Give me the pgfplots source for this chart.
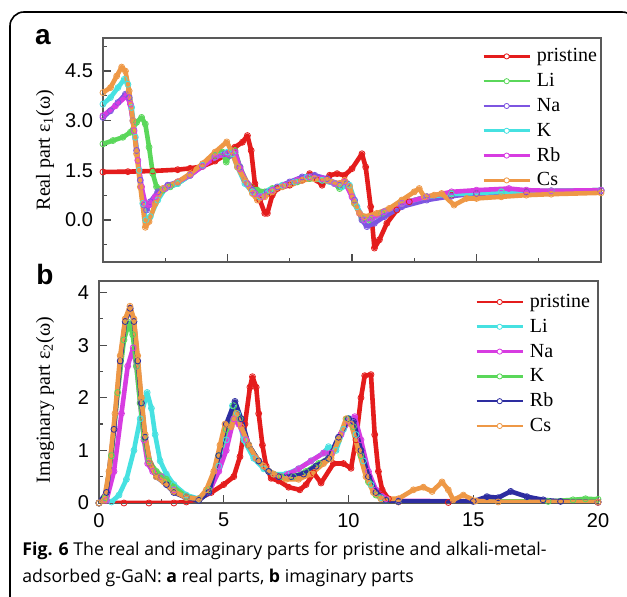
\documentclass[border=0pt]{standalone}
\usepackage{fontspec}
\setmainfont{Liberation Serif}
\setsansfont{Liberation Sans}
\newfontfamily\capfont{Open Sans}
\usepackage{pgfplots}
\pgfplotsset{compat=1.18}
\definecolor{cRed}{RGB}{228,28,28}
\definecolor{cGreen}{RGB}{90,215,90}
\definecolor{cViolet}{RGB}{125,85,225}
\definecolor{cCyan}{RGB}{70,225,225}
\definecolor{cMagenta}{RGB}{215,60,225}
\definecolor{cOrange}{RGB}{238,152,70}
\definecolor{cNavy}{RGB}{45,45,160}

\pgfplotsset{
  panel/.style={
    scale only axis, width=249pt,
    xmin=0, xmax=20,
    tick pos=left, tick align=inside,
    major tick length=4pt, minor tick length=2.2pt,
    every tick/.style={black!70, line width=0.6pt},
    axis line style={black!65, line width=0.75pt},
    tick label style={font=\sffamily\fontsize{10}{10}\selectfont},
    /pgf/number format/assume math mode=true,
    xtick={0,5,10,15,20}, minor xtick={2.5,7.5,12.5,17.5},
    every axis y label/.style={rotate=90, anchor=center, font=\fontsize{10}{10}\selectfont},
    legend cell align=left,
    legend style={draw=none, fill=none, anchor=north west,
      font=\fontsize{10}{10}\selectfont, row sep=2.9pt, inner sep=0pt,
      nodes={inner sep=0.5pt, text height=7pt, text depth=1.5pt},
      /tikz/every odd column/.append style={column sep=2.5pt}},
    legend image code/.code={
      \draw[#1, line width=1.3pt] (0pt,0pt) -- (23pt,0pt);
      \draw[#1, line width=0.4pt, fill=white, solid] (11.5pt,0pt) circle (1.3pt);},
    every axis plot/.append style={line width=2.3pt, line join=round,
      mark=o, mark size=1.5pt, mark options={line width=0.4pt, solid}},
  }
}

\begin{document}
\begin{tikzpicture}
\path[use as bounding box] (0,0) rectangle (313.5pt,298.5pt);
\draw[line width=0.8pt, rounded corners=7pt] (5pt,-10pt) -- (5pt,292.5pt) -- (318pt,292.5pt) -- (318pt,-10pt);

\node[font=\sffamily\bfseries\fontsize{14}{14}\selectfont, anchor=base] at (21.5pt,276pt) {a};
\node[font=\sffamily\bfseries\fontsize{14}{14}\selectfont, anchor=base] at (22.5pt,156pt) {b};

% ---- (a) real part
\begin{axis}[panel,
  at={(51.5pt,167.5pt)}, anchor=south west, height=112pt,
  ymin=-1.27, ymax=5.5,
  xticklabels={},
  ytick={0,1.5,3,4.5}, yticklabels={0.0,1.5,3.0,4.5},
  minor ytick={-0.75,0.75,2.25,3.75,5.25},
  yticklabel style={xshift=-1.5pt},
  ylabel={Real part ε\textsubscript{1}(ω)},
  every axis y label/.append style={at={(axis description cs:-0.1165,0.5)}},
  legend style={at={(axis description cs:0.761,0.962)}},
]
\addplot[cRed] coordinates {
 (0,1.45) (1,1.46) (2,1.48) (3,1.52) (3.5,1.56) (4,1.62) (4.5,1.78) (5,2.0) (5.3,2.2)
 (5.6,2.35) (5.8,2.55) (5.95,2.1) (6.1,1.1) (6.3,0.6) (6.5,0.2) (6.6,0.2) (6.8,0.75)
 (7.0,0.95) (7.5,1.05) (8.0,1.2) (8.3,1.4) (8.6,1.2) (8.8,1.05) (9.1,1.35) (9.4,1.4)
 (9.7,1.35) (10.0,1.55) (10.4,2.0) (10.55,1.6) (10.75,0.4) (10.9,-0.85) (11.1,-0.6)
 (11.4,-0.1) (11.8,0.3) (12.3,0.55) (13,0.7) (14,0.75) (15,0.8) (17,0.85) (20,0.88)
};
\addlegendentry{pristine}
\addplot[cGreen] coordinates {
 (0,2.3) (0.4,2.4) (0.8,2.5) (1.1,2.65) (1.35,2.95) (1.55,3.1) (1.7,2.9) (1.85,2.2)
 (2.0,1.4) (2.15,1.0) (2.4,0.9) (2.7,1.0) (3,1.1) (3.5,1.35) (4,1.65) (4.5,1.95)
 (4.8,2.05) (4.95,1.75) (5.1,2.0) (5.3,2.1) (5.5,1.6) (5.8,1.1) (6.2,0.9) (6.5,0.85)
 (6.8,0.95) (7.3,1.05) (7.8,1.15) (8.3,1.25) (8.8,1.2) (9.3,1.1) (9.5,0.95) (9.8,1.1)
 (10.1,0.5) (10.4,0.05) (10.7,0.0) (11.2,0.2) (12,0.5) (13,0.7) (14,0.8) (16,0.85)
 (18,0.88) (20,0.9)
};
\addlegendentry{Li}
\addplot[cViolet] coordinates {
 (0,3.1) (0.3,3.3) (0.6,3.55) (0.9,3.8) (1.05,3.7) (1.2,3.0) (1.35,2.1) (1.5,1.2)
 (1.65,0.45) (1.75,0.3) (1.9,0.55) (2.2,0.85) (2.6,1.05) (3,1.15) (3.5,1.35) (4,1.65)
 (4.5,1.9) (4.9,2.0) (5.1,1.95) (5.3,2.05) (5.5,1.6) (5.7,1.2) (6.0,0.9) (6.3,0.7)
 (6.6,0.85) (7.0,1.0) (7.5,1.15) (8.0,1.3) (8.5,1.35) (9.0,1.25) (9.5,1.05) (9.8,1.1)
 (10.1,0.6) (10.4,0.0) (10.6,-0.2) (10.9,-0.1) (11.3,0.1) (12,0.4) (13,0.6) (14,0.72)
 (15,0.8) (17,0.85) (20,0.88)
};
\addlegendentry{Na}
\addplot[cCyan] coordinates {
 (0,3.5) (0.3,3.7) (0.6,4.0) (0.85,4.25) (1.0,4.1) (1.15,3.4) (1.3,2.5) (1.45,1.5)
 (1.6,0.5) (1.72,0.0) (1.9,0.1) (2.2,0.6) (2.5,0.95) (3,1.1) (3.5,1.35) (4,1.65)
 (4.5,1.9) (5.0,2.05) (5.2,2.0) (5.4,1.6) (5.7,1.1) (6.0,0.85) (6.3,0.7) (6.7,0.9)
 (7.2,1.05) (7.7,1.15) (8.2,1.3) (8.8,1.2) (9.3,1.1) (9.6,1.0) (9.9,1.05) (10.2,0.4)
 (10.5,0.0) (10.8,0.05) (11.3,0.25) (12,0.5) (13,0.7) (14,0.78) (16,0.85) (18,0.88)
 (20,0.9)
};
\addlegendentry{K}
\addplot[cMagenta] coordinates {
 (0,3.15) (0.5,3.45) (0.95,3.75) (1.1,3.5) (1.25,2.7) (1.4,1.8) (1.55,1.0) (1.7,0.5)
 (1.85,0.45) (2.1,0.7) (2.5,0.95) (3,1.15) (3.5,1.35) (4,1.62) (4.5,1.9) (5,2.0)
 (5.3,2.05) (5.5,1.55) (5.8,1.1) (6.1,0.8) (6.4,0.7) (6.8,0.9) (7.3,1.05) (7.8,1.2)
 (8.3,1.3) (8.8,1.25) (9.3,1.1) (9.7,1.15) (10.0,0.7) (10.3,0.2) (10.5,0.0) (10.8,0.05)
 (11.3,0.25) (12,0.5) (13,0.7) (14,0.85) (15,0.9) (16.3,0.95) (17,0.9) (18,0.88) (20,0.9)
};
\addlegendentry{Rb}
\addplot[cOrange] coordinates {
 (0,3.85) (0.3,4.0) (0.55,4.35) (0.75,4.62) (0.9,4.5) (1.05,3.9) (1.2,3.0) (1.35,2.0)
 (1.5,1.0) (1.7,-0.22) (1.85,-0.05) (2.1,0.5) (2.4,0.95) (3,1.15) (3.5,1.4) (4,1.7)
 (4.5,2.05) (4.97,2.36) (5.15,2.1) (5.4,1.6) (5.7,1.2) (6.0,0.8) (6.2,0.6) (6.5,0.7)
 (6.8,0.85) (7.2,1.0) (7.6,1.1) (8.0,1.2) (8.5,1.25) (9.0,1.2) (9.5,1.1) (9.7,1.2)
 (9.9,1.0) (10.1,0.5) (10.3,0.2) (10.5,0.1) (11,0.2) (11.5,0.35) (12,0.6) (12.5,0.85)
 (12.7,0.95) (12.9,0.7) (13.3,0.75) (13.6,0.8) (14.1,0.45) (14.6,0.65) (15,0.65)
 (16,0.7) (17,0.75) (18,0.78) (20,0.82)
};
\addlegendentry{Cs}
\end{axis}

% ---- (b) imaginary part
\begin{axis}[panel,
  at={(49.5pt,47pt)}, anchor=south west, width=249.5pt, height=111pt,
  ymin=0, ymax=4.22,
  ytick={0,1,2,3,4}, minor ytick={0.5,1.5,2.5,3.5},
  yticklabel style={xshift=-1.5pt},
  xticklabel style={yshift=-1.5pt},
  ylabel={Imaginary part ε\textsubscript{2}(ω)},
  every axis y label/.append style={at={(axis description cs:-0.108,0.464)}},
  legend style={at={(axis description cs:0.7535,0.95)}},
]
\addplot[cRed] coordinates {
 (0,0) (1,0) (2,0) (3,0) (3.5,0.02) (4,0.08) (4.5,0.2) (5,0.35) (5.4,0.5) (5.65,0.88)
 (5.85,1.5) (6.05,2.2) (6.15,2.4) (6.3,2.2) (6.4,1.7) (6.55,1.1) (6.7,0.7) (6.9,0.47)
 (7.2,0.42) (7.6,0.3) (8.05,0.25) (8.3,0.35) (8.6,0.57) (8.9,0.38) (9.4,0.75) (9.8,0.75)
 (10.1,0.66) (10.3,1.2) (10.5,2.0) (10.65,2.42) (10.9,2.44) (11.05,1.3) (11.2,0.6)
 (11.35,0.25) (11.6,0.08) (12,0.02) (14,0.01) (20,0.01)
};
\addlegendentry{pristine}
\addplot[cCyan] coordinates {
 (0,0) (0.5,0.02) (0.8,0.15) (1.1,0.45) (1.4,1.0) (1.65,1.6) (1.93,2.1) (2.1,1.8)
 (2.25,1.3) (2.45,0.8) (2.7,0.55) (3.0,0.35) (3.5,0.15) (4.0,0.08) (4.4,0.2) (4.8,0.7)
 (5.1,1.2) (5.35,1.85) (5.55,1.7) (5.8,1.2) (6.2,0.85) (6.6,0.65) (7.0,0.55) (7.5,0.55)
 (8.0,0.65) (8.5,0.8) (9.0,0.95) (9.2,1.07) (9.5,1.0) (9.8,1.4) (10.05,1.6) (10.3,1.3)
 (10.6,0.8) (10.9,0.35) (11.3,0.1) (12,0.03) (20,0.02)
};
\addlegendentry{Li}
\addplot[cMagenta] coordinates {
 (0,0) (0.3,0.05) (0.6,0.6) (0.9,1.7) (1.15,2.6) (1.37,2.95) (1.5,2.6) (1.65,1.9)
 (1.8,1.2) (1.95,0.75) (2.15,0.6) (2.5,0.5) (3.0,0.25) (3.5,0.12) (4.0,0.07) (4.4,0.2)
 (4.8,0.6) (5.1,1.0) (5.4,1.6) (5.6,1.5) (5.9,1.2) (6.3,0.85) (6.8,0.6) (7.2,0.5)
 (7.6,0.55) (8.0,0.65) (8.5,0.8) (9.0,0.95) (9.3,0.95) (9.7,1.3) (10.0,1.55) (10.25,1.64)
 (10.5,1.2) (10.8,0.6) (11.1,0.25) (11.5,0.08) (12,0.04) (20,0.02)
};
\addlegendentry{Na}
\addplot[cGreen] coordinates {
 (0,0) (0.25,0.1) (0.5,0.9) (0.75,2.1) (1.0,3.1) (1.2,3.43) (1.35,3.2) (1.5,2.6)
 (1.65,1.9) (1.8,1.25) (2.0,0.8) (2.3,0.6) (2.7,0.45) (3.0,0.3) (3.5,0.12) (4.0,0.07)
 (4.4,0.25) (4.8,0.9) (5.1,1.4) (5.4,1.85) (5.65,1.6) (6.0,1.1) (6.4,0.8) (6.8,0.6)
 (7.3,0.5) (7.8,0.5) (8.3,0.6) (8.8,0.75) (9.2,0.85) (9.6,1.2) (9.95,1.6) (10.2,1.45)
 (10.5,0.9) (10.8,0.4) (11.1,0.15) (11.5,0.05) (12,0.03) (18,0.03) (19,0.06) (19.5,0.08)
 (20,0.07)
};
\addlegendentry{K}
\addplot[cNavy] coordinates {
 (0,0) (0.3,0.2) (0.6,1.4) (0.85,2.7) (1.05,3.45) (1.25,3.7) (1.4,3.45) (1.55,2.7)
 (1.7,1.9) (1.85,1.25) (2.05,0.75) (2.3,0.5) (2.7,0.35) (3.0,0.2) (3.5,0.1) (4.0,0.05)
 (4.4,0.2) (4.8,0.9) (5.1,1.5) (5.45,1.93) (5.7,1.6) (6.0,1.1) (6.4,0.8) (6.8,0.6)
 (7.2,0.5) (7.7,0.5) (8.2,0.55) (8.7,0.7) (9.2,0.85) (9.6,1.25) (10.0,1.6) (10.2,1.55)
 (10.5,1.0) (10.8,0.5) (11.1,0.2) (11.5,0.05) (12,0.03) (15,0.03) (15.55,0.12) (16.0,0.1)
 (16.5,0.22) (17.15,0.12) (17.8,0.06) (18.5,0.03) (20,0.02)
};
\addlegendentry{Rb}
\addplot[cOrange] coordinates {
 (0,0) (0.2,0.05) (0.4,0.6) (0.64,1.7) (0.85,2.8) (1.05,3.5) (1.24,3.74) (1.4,3.5)
 (1.55,2.8) (1.7,2.0) (1.85,1.3) (2.05,0.75) (2.3,0.5) (2.6,0.4) (3.0,0.22) (3.5,0.1)
 (4.0,0.08) (4.3,0.25) (4.6,0.6) (4.85,1.1) (5.05,1.5) (5.3,1.45) (5.5,1.7) (5.7,1.45)
 (6.0,1.1) (6.3,0.85) (6.6,0.7) (7.0,0.55) (7.5,0.45) (8.0,0.45) (8.5,0.55) (9.0,0.75)
 (9.3,0.85) (9.6,1.2) (9.9,1.6) (10.1,1.5) (10.4,1.0) (10.7,0.5) (11.0,0.2) (11.3,0.08)
 (12.0,0.08) (12.6,0.25) (13.0,0.3) (13.35,0.22) (13.75,0.4) (14.0,0.25) (14.2,0.06)
 (14.6,0.15) (15.1,0.04) (16,0.02) (20,0.02)
};
\addlegendentry{Cs}
\end{axis}

\node[anchor=base west, inner sep=0pt, font=\capfont\fontsize{8.85}{10}\selectfont] at (11pt,20.5pt)
  {\textbf{Fig. 6} The real and imaginary parts for pristine and alkali-metal-};
\node[anchor=base west, inner sep=0pt, font=\capfont\fontsize{8.85}{10}\selectfont] at (11pt,7pt)
  {adsorbed g-GaN: \textbf{a} real parts, \textbf{b} imaginary parts};
\end{tikzpicture}
\end{document}
